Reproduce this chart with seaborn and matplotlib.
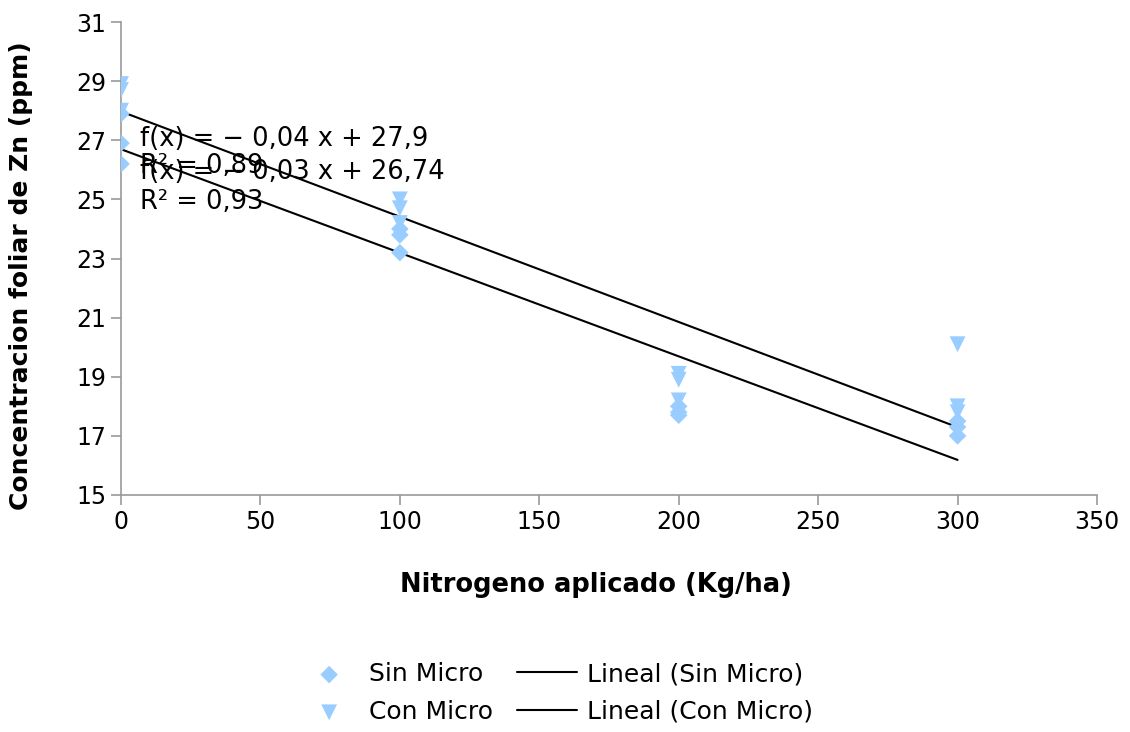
import numpy as np
import pandas as pd
import matplotlib
matplotlib.use("Agg")
import matplotlib.pyplot as plt
import seaborn as sns

sns.set_style("white")
plt.rcParams['font.family'] = ['DejaVu Sans']
plt.rcParams['text.color'] = 'black'
plt.rcParams['axes.labelcolor'] = 'black'
plt.rcParams['xtick.color'] = 'black'
plt.rcParams['ytick.color'] = 'black'

# Data
sin_x = [0, 0, 0, 100, 100, 100, 200, 200, 200, 300, 300, 300]
sin_y = [27.9, 26.9, 26.2, 24.0, 23.8, 23.2, 18.0, 17.8, 17.7, 17.5, 17.3, 17.0]
con_x = [0, 0, 0, 100, 100, 100, 200, 200, 200, 300, 300, 300]
con_y = [28.9, 28.7, 28.0, 25.0, 24.7, 24.2, 19.1, 18.9, 18.2, 20.1, 18.0, 17.8]

x_ticks = [0, 50, 100, 150, 200, 250, 300, 350]
y_ticks = [15, 17, 19, 21, 23, 25, 27, 29, 31]

eq_con = ["f(x) = − 0,04 x + 27,9", "R² = 0,89"]
eq_sin = ["f(x) = − 0,03 x + 26,74", "R² = 0,93"]

df_sin = pd.DataFrame({"x": sin_x, "y": sin_y})
df_con = pd.DataFrame({"x": con_x, "y": con_y})

fig = plt.figure(figsize=(11.30, 7.32), dpi=100)
ax = fig.add_axes([121/1130, 1 - 495/732, (1097-121)/1130, (495-22)/732])

blue = "#99ccff"
sns.scatterplot(data=df_sin, x="x", y="y", marker="D", color=blue, s=80,
                edgecolor="none", ax=ax, label="Sin Micro", zorder=3)
sns.scatterplot(data=df_con, x="x", y="y", marker="v", color=blue, s=130,
                edgecolor="none", ax=ax, label="Con Micro", zorder=3)
sns.regplot(data=df_sin, x="x", y="y", scatter=False, ci=None, color="black",
            line_kws={"lw": 1.5}, ax=ax, label="Lineal (Sin Micro)", truncate=True)
sns.regplot(data=df_con, x="x", y="y", scatter=False, ci=None, color="black",
            line_kws={"lw": 1.5}, ax=ax, label="Lineal (Con Micro)", truncate=True)

fs = 18.5
ax.text(6.8, 27.05, eq_con[0], fontsize=fs, va="center", ha="left")
ax.text(6.8, 26.12, eq_con[1], fontsize=fs, va="center", ha="left")
ax.text(6.8, 25.92, eq_sin[0], fontsize=fs, va="center", ha="left")
ax.text(6.8, 24.9, eq_sin[1], fontsize=fs, va="center", ha="left")

ax.set_xlim(0, 350)
ax.set_ylim(15, 31)
ax.set_xticks(x_ticks)
ax.set_yticks(y_ticks)
ax.tick_params(axis="both", labelsize=17, length=7, width=1.2, color="#999999",
               labelcolor="black", direction="out", left=True, bottom=True)
for s in ["top", "right"]:
    ax.spines[s].set_visible(False)
for s in ["left", "bottom"]:
    ax.spines[s].set_color("#999999")
    ax.spines[s].set_linewidth(1.2)

ax.set_xlabel("Nitrogeno aplicado (Kg/ha)", fontsize=18.5, fontweight="bold")
ax.set_ylabel("Concentracion foliar de Zn (ppm)", fontsize=18, fontweight="bold")
ax.xaxis.set_label_coords(0.487, -0.163)
ax.yaxis.set_label_coords(-0.090, 0.463)

h, l = ax.get_legend_handles_labels()
order = ["Sin Micro", "Con Micro", "Lineal (Sin Micro)", "Lineal (Con Micro)"]
hd = dict(zip(l, h))
if ax.get_legend():
    ax.get_legend().remove()
fig.legend([hd[k] for k in order], order, ncol=2, loc="center",
           bbox_to_anchor=(556/1130, 1 - 693/732), frameon=False, fontsize=18,
           handlelength=2.4, columnspacing=0.95, labelspacing=0.55, handletextpad=0.4)

fig.savefig("out.png", dpi=100)
